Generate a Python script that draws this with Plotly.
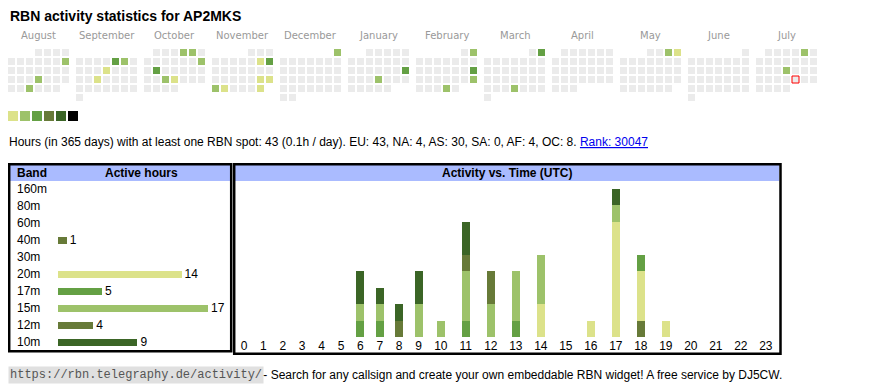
import datetime as dt
import plotly.graph_objects as go

# page body has an 8px margin; figure fills the rest of the 870x390 window
OFF = 8
W, H = 862, 382

# ---------------- data ----------------
title_text = "RBN activity statistics for AP2MKS"
month_names = ["August", "September", "October", "November", "December", "January",
               "February", "March", "April", "May", "June", "July"]
first_month = "2024-08-01"
today = "2025-07-25"
missing_days = ["2024-09-01"]

active_days = ["2024-08-11", "2024-08-22", "2024-08-28",
               "2024-09-06", "2024-09-07", "2024-09-12", "2024-09-18",
               "2024-10-04", "2024-10-05", "2024-10-13", "2024-10-15", "2024-10-23", "2024-10-24",
               "2024-11-09", "2024-11-10", "2024-11-23", "2024-11-24", "2024-11-25", "2024-11-26",
               "2024-11-30", "2024-12-01",
               "2025-01-19", "2025-01-23",
               "2025-02-02", "2025-02-16", "2025-02-23", "2025-02-27",
               "2025-03-02", "2025-03-27",
               "2025-05-03", "2025-05-04",
               "2025-07-05", "2025-07-17"]
active_levels = [2, 2, 2,
                 3, 2, 1, 1,
                 2, 2, 2, 3, 2, 1,
                 1, 3, 1, 1, 2, 1,
                 1, 2,
                 3, 2,
                 2, 3, 2, 2,
                 3, 2,
                 2, 1,
                 2, 2]
level_colors = ["#dce28a", "#9dc26a", "#64a044", "#677a38", "#3b6526", "#000000"]
empty_color = "#ebebeb"

summary_text = ("Hours (in 365 days) with at least one RBN spot: 43 (0.1h / day). "
                "EU: 43, NA: 4, AS: 30, SA: 0, AF: 4, OC: 8. ")
rank_text = "Rank: 30047"

bands = ["160m", "80m", "60m", "40m", "30m", "20m", "17m", "15m", "12m", "10m"]
band_hours = [0, 0, 0, 1, 0, 14, 5, 17, 4, 9]
band_colors = ["#3b6526", "#667a38", "#64a044", "#677a38", "#9dc26a",
               "#dce28a", "#64a044", "#9dc26a", "#677a38", "#3b6526"]

hours = list(range(24))
hours_40m = [0, 0, 0, 0, 0, 0, 0, 0, 0, 0, 0, 0, 0, 0, 0, 0, 0, 0, 1, 0, 0, 0, 0, 0]
hours_20m = [0, 0, 0, 0, 0, 0, 0, 0, 0, 0, 0, 0, 0, 0, 2, 0, 1, 7, 3, 1, 0, 0, 0, 0]
hours_17m = [0, 0, 0, 0, 0, 0, 1, 1, 0, 0, 0, 1, 0, 1, 0, 0, 0, 0, 1, 0, 0, 0, 0, 0]
hours_15m = [0, 0, 0, 0, 0, 0, 1, 1, 0, 2, 1, 3, 2, 3, 3, 0, 0, 1, 0, 0, 0, 0, 0, 0]
hours_12m = [0, 0, 0, 0, 0, 0, 0, 0, 1, 0, 0, 1, 2, 0, 0, 0, 0, 0, 0, 0, 0, 0, 0, 0]
hours_10m = [0, 0, 0, 0, 0, 0, 2, 1, 1, 2, 0, 2, 0, 0, 0, 0, 0, 1, 0, 0, 0, 0, 0, 0]

footer_url = "https://rbn.telegraphy.de/activity/"
footer_text = " - Search for any callsign and create your own embeddable RBN widget! A free service by DJ5CW."

# ---------------- helpers (screen pixels -> paper) ----------------
SANS = "Liberation Sans, Arial, sans-serif"


def px(x):
    return (x - OFF) / W


def py(y):
    return 1 - (y - OFF) / H


fig = go.Figure()

# ---------------- calendar ----------------
d0 = dt.date.fromisoformat(first_month)
month_starts = []
y_, m_ = d0.year, d0.month
for i in range(12):
    month_starts.append(dt.date(y_, m_, 1))
    m_ += 1
    if m_ > 12:
        m_, y_ = 1, y_ + 1

level_of = {dt.date.fromisoformat(d): l for d, l in zip(active_days, active_levels)}
skip = {dt.date.fromisoformat(d) for d in missing_days}
today_d = dt.date.fromisoformat(today)

cx, cy, ccol, lcol, lw = [], [], [], [], []
for mi, ms in enumerate(month_starts):
    d = ms
    off = ms.weekday()
    while d.month == ms.month:
        if d not in skip:
            idx = off + d.day - 1
            r, c = divmod(idx, 7)
            cx.append(8 + 68 * mi + 9 * c + 3.5)
            cy.append(49 + 9 * r + 3.5)
            lvl = level_of.get(d)
            ccol.append(level_colors[lvl - 1] if lvl else empty_color)
            if d == today_d:
                lcol.append("#ff0000")
                lw.append(1)
            else:
                lcol.append("rgba(0,0,0,0)")
                lw.append(0)
        d += dt.timedelta(days=1)

fig.add_trace(go.Scatter(
    x=cx, y=cy, mode="markers", xaxis="x", yaxis="y", hoverinfo="skip",
    marker=dict(symbol="square", size=7, color=ccol, line=dict(color=lcol, width=lw)),
    showlegend=False))

# legend squares
fig.add_trace(go.Scatter(
    x=[8 + 12 * i + 5 for i in range(len(level_colors))],
    y=[116] * len(level_colors), mode="markers", xaxis="x", yaxis="y", hoverinfo="skip",
    marker=dict(symbol="square", size=10, color=level_colors, line=dict(width=0)),
    showlegend=False))

annotations = []
shapes = []
for mi, name in enumerate(month_names):
    annotations.append(dict(x=8 + 68 * mi + 30.5, y=35, xref="x", yref="y", text=name,
                            showarrow=False, xanchor="center", yanchor="middle",
                            font=dict(family="DejaVu Sans", size=10, color="#999999")))

annotations.append(dict(x=px(7.5), y=py(16), xref="paper", yref="paper",
                        text="<b>" + title_text + "</b>",
                        showarrow=False, xanchor="left", yanchor="middle",
                        font=dict(family=SANS, size=14, color="#000")))

annotations.append(dict(x=px(7), y=py(142), xref="paper", yref="paper",
                        text=summary_text + "<a href='https://rbn.telegraphy.de/activity/AP2MKS'>"
                             "<span style='color:#0000ee'><u>" + rank_text + "</u></span></a>",
                        showarrow=False, xanchor="left", yanchor="middle",
                        font=dict(family=SANS, size=12, color="#000")))

# ---------------- boxes & headers ----------------
shapes.append(dict(type="rect", xref="paper", yref="paper", x0=px(10), x1=px(230),
                   y0=py(181), y1=py(165), fillcolor="#aabbff", line=dict(width=0), layer="below"))
shapes.append(dict(type="rect", xref="paper", yref="paper", x0=px(235), x1=px(779),
                   y0=py(181), y1=py(165), fillcolor="#aabbff", line=dict(width=0), layer="below"))
shapes.append(dict(type="rect", xref="paper", yref="paper", x0=px(9.2), x1=px(231.2),
                   y0=py(351.3), y1=py(164.2), line=dict(color="#000", width=2.5), layer="below"))
shapes.append(dict(type="rect", xref="paper", yref="paper", x0=px(234.2), x1=px(780.5),
                   y0=py(353.8), y1=py(164.2), line=dict(color="#000", width=2.5), layer="below"))

annotations.append(dict(x=15, y=173, xref="x", yref="y", text="<b>Band</b>", showarrow=False,
                        xanchor="left", yanchor="middle", font=dict(family=SANS, size=12, color="#000")))
annotations.append(dict(x=141.5, y=173, xref="x", yref="y", text="<b>Active hours</b>", showarrow=False,
                        xanchor="center", yanchor="middle", font=dict(family=SANS, size=12, color="#000")))
annotations.append(dict(x=507, y=173, xref="x", yref="y", text="<b>Activity vs. Time (UTC)</b>",
                        showarrow=False, xanchor="center", yanchor="middle",
                        font=dict(family=SANS, size=12, color="#000")))

# ---------------- band table ----------------
fig.add_trace(go.Bar(
    x=band_hours, y=bands, orientation="h", xaxis="x2", yaxis="y2",
    marker=dict(color=band_colors, line=dict(width=0)),
    text=[str(v) if v else "" for v in band_hours], textposition="outside",
    constraintext="none", cliponaxis=False,
    textfont=dict(family=SANS, size=12, color="#000"), hoverinfo="skip", showlegend=False))

for b in bands:
    annotations.append(dict(x=15, y=b, xref="x", yref="y2", text=b, showarrow=False,
                            xanchor="left", yanchor="middle",
                            font=dict(family=SANS, size=12, color="#000")))

# ---------------- activity vs time ----------------
col_w = [19.4 if len(str(h)) == 1 else 25 for h in hours]
centers = []
pos = 244 - col_w[0] / 2
for w in col_w:
    centers.append(pos + w / 2)
    pos += w

series = [("40m", hours_40m), ("20m", hours_20m), ("17m", hours_17m),
          ("15m", hours_15m), ("12m", hours_12m), ("10m", hours_10m)]
for name, vals in series:
    fig.add_trace(go.Bar(
        x=centers, y=vals, width=8, xaxis="x3", yaxis="y3", name=name,
        marker=dict(color=band_colors[bands.index(name)], line=dict(width=0)),
        hoverinfo="skip", showlegend=False))

totals = [sum(v[i] for _, v in series) for i in range(24)]

# ---------------- footer ----------------
annotations.append(dict(x=px(8), y=py(375), xref="paper", yref="paper", text=footer_url,
                        showarrow=False, xanchor="left", yanchor="middle", bgcolor="#e0e0e0",
                        borderpad=1,
                        font=dict(family="Liberation Mono, monospace", size=12, color="#555")))
annotations.append(dict(x=px(258), y=py(375), xref="paper", yref="paper", text=footer_text,
                        showarrow=False, xanchor="left", yanchor="middle",
                        font=dict(family=SANS, size=12, color="#000")))

fig.update_layout(
    width=W, height=H, margin=dict(l=0, r=0, t=0, b=0),
    paper_bgcolor="white", plot_bgcolor="rgba(0,0,0,0)",
    barmode="stack", bargap=0.59,
    xaxis=dict(domain=[0, 1], range=[OFF, OFF + W], visible=False, fixedrange=True),
    yaxis=dict(domain=[0, 1], range=[OFF + H, OFF], visible=False, fixedrange=True),
    xaxis2=dict(domain=[px(58), px(208)], range=[0, max(band_hours)], visible=False, anchor="y2"),
    yaxis2=dict(domain=[py(350.8), py(180.8)], type="category", categoryorder="array",
                categoryarray=bands, range=[len(bands) - 0.5, -0.5], visible=False, anchor="x2"),
    xaxis3=dict(domain=[px(233), px(780)], range=[233, 780], anchor="y3",
                tickmode="array", tickvals=centers, ticktext=[str(h) for h in hours],
                showgrid=False, zeroline=False, showline=False, ticks="",
                tickfont=dict(family=SANS, size=12, color="#000")),
    yaxis3=dict(domain=[py(337), py(337 - 148)], range=[0, max(totals)], visible=False, anchor="x3"),
    annotations=annotations, shapes=shapes,
)

fig.write_html("out.html")
